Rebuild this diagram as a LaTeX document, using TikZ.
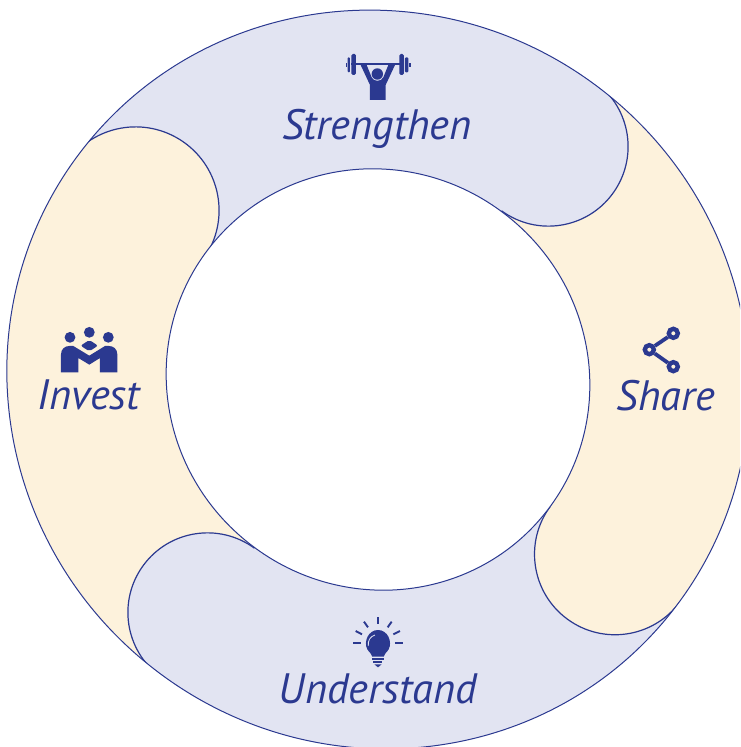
\documentclass[tikz,border=0pt]{standalone}
\usepackage{fontspec}
\setmainfont{PT Sans}
\definecolor{bandblue}{HTML}{E2E4F2}
\definecolor{bandyellow}{HTML}{FDF2DC}
\definecolor{inkblue}{HTML}{2B3990}
\def \bandcaps {53.8/288.7/79.6/bandblue,-36.4/294.5/80.5/bandyellow,233.8/288.7/79.6/bandblue,145.1/295.6/83.5/bandyellow}
\def \bandlabels {Strengthen/-1/251,Share/288/-16,Understand/0/-309,Invest/-289/-15}

\begin{document}
\begin{tikzpicture}
   [x=1pt, y=1pt,
   rim/.style={draw=inkblue, line width=1pt},
   capline/.style={draw=inkblue, line width=1.2pt},
   word/.style={draw=none, fill=none, inner sep=0pt, text=inkblue, font=\fontsize{42.5}{42.5}\selectfont\itshape},
   ink/.style={fill=inkblue, draw=none},
   ray/.style={draw=inkblue, line width=1.9pt},
   spoke/.style={draw=inkblue, line width=3.8pt},
   icon/.style={x=0.3333pt, y=-0.3333pt},
   hub/.style={circle, draw=inkblue, fill=none, line width=4.4pt, inner sep=0pt, minimum size=9pt}]{
\useasboundingbox (-378,-367.5) rectangle (362,379.5);
\clip (-378,-367.5) rectangle (362,379.5);

% bands and their round ends, inside the outer rim
\begin{scope}
\clip (0,0) ellipse [x radius=374.5pt, y radius=366pt, rotate=141];
\foreach \ang / \dist / \rad / \tone in \bandcaps {
   \fill[\tone] (0,0) -- (\ang:600) -- (\ang+45:600) -- (\ang+90:600) -- cycle; }
\foreach \ang / \dist / \rad / \tone in \bandcaps {
   \fill[\tone] (\ang:\dist) circle (\rad pt);
   \draw[capline] (\ang:\dist) ++(\ang:\rad)
      arc[start angle=\ang, end angle=\ang-180, radius=\rad pt]; }
\end{scope}
\draw[rim] (0,0) ellipse [x radius=374.5pt, y radius=366pt, rotate=141];
\draw[rim, fill=white] (0,0) ellipse [x radius=214pt, y radius=208.5pt, rotate=141];

\foreach \txt / \x / \y in \bandlabels {
   \node[word] (\txt) at (\x,\y) {\txt}; }

% lifter
\begin{scope}[shift={(-58,339.5)}, icon]
\fill[ink] (92,68) rectangle (250,75);
\fill[ink, rounded corners=1.5pt] (94,42) rectangle (108,105);
\fill[ink, rounded corners=1.5pt] (238,42) rectangle (252,105);
\fill[ink, rounded corners=1pt] (83,52) rectangle (90,97);
\fill[ink, rounded corners=1pt] (255,52) rectangle (265,97);
\fill[ink] (77,68) rectangle (80,82);
\fill[ink] (268,68) rectangle (272,82);
\fill[ink] (172,102) circle (5.7pt);
\fill[ink] (122,75) -- (140,75) -- (155,112) .. controls (160,126) and (184,126) .. (190,112)
   -- (205,75) -- (225,75) -- (197,135) -- (197,180) -- (150,180) -- (150,135) -- cycle;
\end{scope}

% people
\begin{scope}[shift={(-338,64.5)}, icon]
\fill[ink] (90,67) circle (5.4pt);
\fill[ink] (148,52) circle (5.4pt);
\fill[ink] (205,67) circle (5.4pt);
\fill[ink, rounded corners=2pt] (122,92) -- (148,75) -- (174,92) -- (148,109) -- cycle;
\fill[ink] (63,172) -- (63,118) .. controls (63,102) and (75,93) .. (88,93) -- (100,93) -- (148,122)
   -- (195,93) -- (207,93) .. controls (220,93) and (232,102) .. (232,118) -- (232,172) -- (180,172)
   -- (180,129) -- (148,149) -- (115,129) -- (115,172) -- cycle;
\end{scope}

% share
\begin{scope}[shift={(252,64.5)}, icon]
\node[hub] (shareup) at (130,55) {};
\node[hub] (sharemid) at (58,104) {};
\node[hub] (sharelow) at (130,155) {};
\draw[spoke] (sharemid) -- (shareup);
\draw[spoke] (sharemid) -- (sharelow);
\end{scope}

% bulb
\begin{scope}[shift={(-38,-230.5)}, icon]
\fill[ink] (82,118) .. controls (70,95) and (85,60) .. (114,60) .. controls (143,60) and (158,95) .. (146,118)
   .. controls (140,128) and (133,130) .. (131,140) -- (97,140) .. controls (95,130) and (88,128) .. (82,118) -- cycle;
\draw[bandblue, line width=0.8pt] (85,108) .. controls (83,92) and (90,80) .. (105,75);
\fill[ink] (97,144) rectangle (131,149);
\fill[ink] (100,154) rectangle (127,159);
\fill[ink] (103,163) -- (125,163) -- (114,172) -- cycle;
\foreach \xa / \ya / \xb / \yb in {113/22/113/42,72/35/84/52,155/35/143/52,47/63/66/73,180/63/160/73,40/98/62/98,165/98/188/98} {
   \draw[ray] (\xa,\ya) -- (\xb,\yb); }
\end{scope}
};
\end{tikzpicture}
\end{document}
